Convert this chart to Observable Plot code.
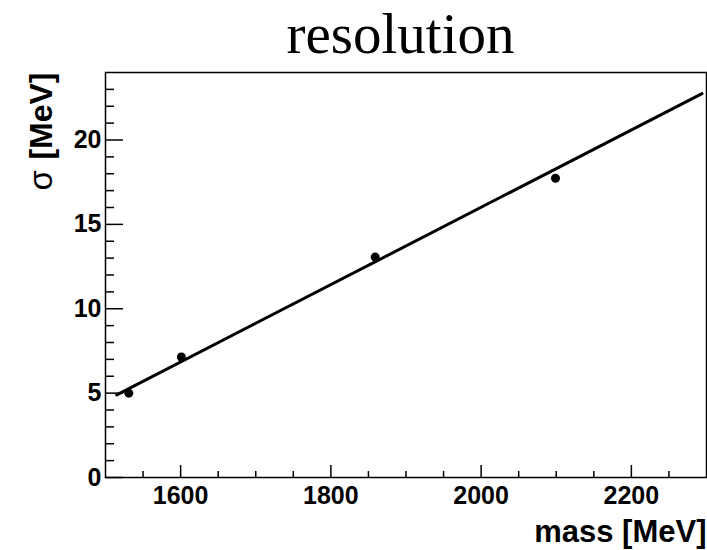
<!DOCTYPE html>
<html>
<head>
<meta charset="utf-8">
<script src="https://cdn.jsdelivr.net/npm/d3@7"></script>
<script src="https://cdn.jsdelivr.net/npm/@observablehq/plot@0.6"></script>
<style>
  html, body { margin: 0; padding: 0; background: white; }
  #title { box-sizing: border-box; width: 707px; height: 62px; padding-left: 94px; padding-top: 5px;
    text-align: center; font-family: "Liberation Serif", serif; font-size: 57px; line-height: 1; color: black; }
  #chart svg { display: block; }
</style>
</head>
<body>
<div id="title">resolution</div>
<div id="chart"></div>
<script>
const xLabel = "mass [MeV]";
const ySymbol = "σ";
const yUnit = "[MeV]";

const xMajor = [1600, 1800, 2000, 2200];
const xMinor = [1550, 1650, 1700, 1750, 1850, 1900, 1950, 2050, 2100, 2150, 2250];
const yMajor = [0, 5, 10, 15, 20];
const yMinor = [1, 2, 3, 4, 6, 7, 8, 9, 11, 12, 13, 14, 16, 17, 18, 19, 21, 22, 23];

const massPoints = [1531, 1601, 1859, 2099];
const sigmaPoints = [5.0, 7.14, 13.06, 17.73];

const fitMass = [1515, 2294];
const fitSigma = [4.9, 22.75];

const points = massPoints.map((m, i) => ({mass: m, sigma: sigmaPoints[i]}));
const fit = fitMass.map((m, i) => ({mass: m, sigma: fitSigma[i]}));

const W = 707, H = 488, MT = 10, MB = 73, ML = 105, MR = 1;
const FW = W - ML - MR, FH = H - MT - MB;

const chart = Plot.plot({
  width: W,
  height: H,
  marginTop: MT,
  marginBottom: MB,
  marginLeft: ML,
  marginRight: MR,
  style: {fontFamily: "Liberation Sans, Arial, sans-serif", fontSize: "25px", color: "black", background: "white"},
  x: {domain: [1500, 2300]},
  y: {domain: [0, 24]},
  marks: [
    Plot.frame({stroke: "black", strokeWidth: 1.5}),
    // inward ticks
    Plot.tickY(yMajor, {y: d => d, insetRight: FW - 18, stroke: "black", strokeWidth: 1.5}),
    Plot.tickY(yMinor, {y: d => d, insetRight: FW - 9, stroke: "black", strokeWidth: 1.5}),
    Plot.tickX(xMajor, {x: d => d, insetTop: FH - 12, stroke: "black", strokeWidth: 1.5}),
    Plot.tickX(xMinor, {x: d => d, insetTop: FH - 6, stroke: "black", strokeWidth: 1.5}),
    // tick labels
    Plot.axisY(yMajor, {tickSize: 0, tickPadding: 4, label: null, tickFormat: d => String(d), fontSize: 25, fontWeight: "bold", fill: "black"}),
    Plot.axisX(xMajor, {tickSize: 0, tickPadding: 9, label: null, tickFormat: d => String(d), fontSize: 25, fontWeight: "bold", fill: "black"}),
    // fit line
    Plot.line(fit, {x: "mass", y: "sigma", stroke: "black", strokeWidth: 3}),
    // data points
    Plot.dot(points, {x: "mass", y: "sigma", r: 4.5, fill: "black", stroke: "none"}),
    // axis titles
    Plot.text([xLabel], {text: d => d, frameAnchor: "bottom-right", textAnchor: "end", lineAnchor: "bottom",
      dy: 64, dx: 0, fontSize: 31, fontWeight: "bold", fill: "black"}),
    Plot.text([yUnit], {text: d => d, frameAnchor: "top-left", textAnchor: "end", lineAnchor: "bottom",
      rotate: -90, dx: -54, dy: 0, fontSize: 32, fontWeight: "bold", fill: "black"}),
    Plot.text([ySymbol], {text: d => d, frameAnchor: "top-left", textAnchor: "start", lineAnchor: "bottom",
      rotate: -90, dx: -54, dy: 118, fontSize: 33, fontWeight: "normal", fill: "black"})
  ]
});
document.getElementById("chart").appendChild(chart);
</script>
</body>
</html>
